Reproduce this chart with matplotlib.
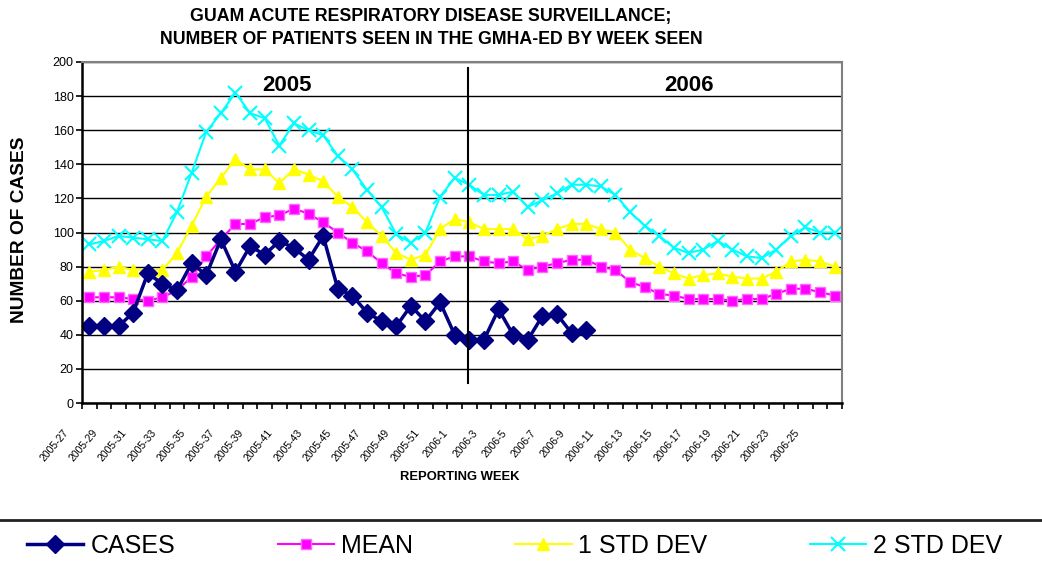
import matplotlib
matplotlib.use("Agg")
import matplotlib.pyplot as plt
import matplotlib.transforms as mtransforms
from matplotlib.lines import Line2D

plt.rcParams['font.family'] = ['Liberation Sans', 'DejaVu Sans']

weeks = [f"2005-{w}" for w in range(27, 53)] + [f"2006-{w}" for w in range(1, 27)]

cases = [45, 45, 45, 53, 76, 70, 66, 82, 75, 96, 77, 92, 87, 95, 91, 84, 98, 67,
         63, 53, 48, 45, 57, 48, 59, 40, 37, 37, 55, 40, 37, 51, 52, 41, 43]
mean = [62, 62, 62, 61, 60, 62, 66, 74, 86, 96, 105, 105, 109, 110, 114, 111, 106,
        100, 94, 89, 82, 76, 74, 75, 83, 86, 86, 83, 82, 83, 78, 80, 82, 84, 84, 80,
        78, 71, 68, 64, 63, 61, 61, 61, 60, 61, 61, 64, 67, 67, 65, 63]
sd1 = [77, 78, 80, 78, 78, 78, 88, 104, 121, 132, 143, 137, 137, 129, 137, 134, 130,
       121, 115, 106, 98, 88, 84, 87, 102, 108, 106, 102, 102, 102, 96, 98, 102, 105,
       105, 102, 100, 90, 85, 80, 76, 73, 75, 76, 74, 73, 73, 77, 83, 84, 83, 80]
sd2 = [93, 95, 98, 97, 96, 95, 112, 135, 159, 170, 182, 170, 167, 151, 164, 160, 157,
       145, 137, 125, 115, 99, 94, 100, 121, 132, 128, 122, 122, 124, 115, 119, 123,
       128, 128, 127, 122, 112, 104, 98, 91, 88, 90, 95, 90, 86, 85, 90, 98, 103, 100, 100]

x = list(range(len(weeks)))

W, H = 1042, 562
fig = plt.figure(figsize=(W / 100, H / 100), dpi=100)
ax = fig.add_axes([82 / W, 1 - 403 / H, 760 / W, 341 / H])

ax.set_ylim(0, 200)
ax.set_xlim(-0.5, len(weeks) - 0.5)
ax.set_yticks(range(0, 201, 20))
ax.yaxis.grid(True, color='black', linewidth=1)
ax.set_axisbelow(True)

l2, = ax.plot(x, sd2, color='#00ffff', lw=1.5, marker='x', ms=10, mew=1.5)
l1, = ax.plot(x, sd1, color='#ffff00', lw=1.5, marker='^', ms=9)
lm, = ax.plot(x, mean, color='#ff00ff', lw=1.5, marker='s', ms=6.5,
              mfc='#ff00ff', mec='#ff66ff', mew=1)
lc, = ax.plot(x[:len(cases)], cases, color='#000080', lw=2.5, marker='D', ms=9)

# divider between years
ax.plot([25.9, 25.9], [11.5, 196.5], color='black', lw=1.5)
ax.text(13.5, 186, '2005', ha='center', va='center', fontsize=16, fontweight='bold')
ax.text(41, 186, '2006', ha='center', va='center', fontsize=16, fontweight='bold')

for s in ['left', 'bottom']:
    ax.spines[s].set_color('black')
    ax.spines[s].set_linewidth(1.8)
for s in ['top', 'right']:
    ax.spines[s].set_color('#808080')
    ax.spines[s].set_linewidth(1.5)

ax.tick_params(axis='y', labelsize=9, length=4, width=1.2, pad=2)
ax.set_xticks([i - 0.5 for i in range(len(weeks) + 1)])
ax.set_xticklabels([])
ax.tick_params(axis='x', which='major', length=4, width=1.2)
ax.set_xticks(x[::2], minor=True)
ax.set_xticklabels(weeks[::2], minor=True, rotation=50, ha='right', va='top', fontsize=7.5)
ax.tick_params(axis='x', which='minor', length=0, pad=2)
offset = mtransforms.ScaledTranslation(-19 / 100, -22 / 100, fig.dpi_scale_trans)
for lab in ax.xaxis.get_minorticklabels():
    lab.set_transform(lab.get_transform() + offset)

fig.text(431 / W, 1 - 17 / H, 'GUAM ACUTE RESPIRATORY DISEASE SURVEILLANCE;',
         ha='center', va='center', fontsize=12.8, fontweight='bold')
fig.text(431 / W, 1 - 40 / H, 'NUMBER OF PATIENTS SEEN IN THE GMHA-ED BY WEEK SEEN',
         ha='center', va='center', fontsize=12.8, fontweight='bold')
fig.text(20 / W, 1 - 230 / H, 'NUMBER OF CASES', rotation=90, ha='center', va='center',
         fontsize=13.8, fontweight='bold')
fig.text(460 / W, 1 - 477 / H, 'REPORTING WEEK', ha='center', va='center',
         fontsize=9.4, fontweight='bold')

# legend area separator
fig.add_artist(Line2D([0, 1], [1 - 520 / H, 1 - 520 / H], transform=fig.transFigure,
                      color='#222222', lw=2))

fig.legend([lc, lm, l1, l2], ['CASES', 'MEAN', '1 STD DEV', '2 STD DEV'],
           loc='center left', bbox_to_anchor=(27 / W, 1 - 546 / H), ncol=4,
           frameon=False, fontsize=18, handlelength=2.25, handletextpad=0.28,
           columnspacing=4.1, borderpad=0, borderaxespad=0)

fig.savefig('out.png', dpi=100)
